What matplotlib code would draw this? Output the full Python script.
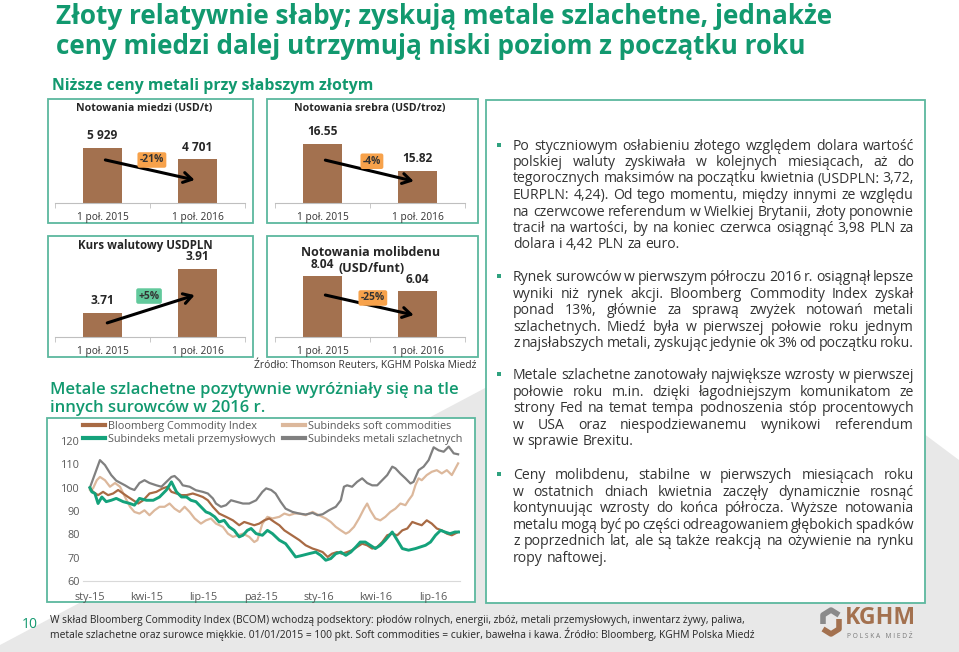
import matplotlib
matplotlib.use('Agg')
import matplotlib.pyplot as plt
from matplotlib import font_manager as fm
from matplotlib.patches import Rectangle, Polygon
from matplotlib.lines import Line2D
import pandas as pd

# ---------------- data ----------------
periods = ['1 poł. 2015', '1 poł. 2016']
copper = [5929, 4701]
silver = [16.55, 15.82]
usdpln = [3.71, 3.91]
molybdenum = [8.04, 6.04]
changes = ['-21%', '-4%', '+5%', '-25%']

start_date = '2015-01-01'
tick_dates = ['2015-01-01', '2015-04-01', '2015-07-01', '2015-10-01',
              '2016-01-01', '2016-04-01', '2016-07-01']
tick_labels = ['sty-15', 'kwi-15', 'lip-15', 'paź-15', 'sty-16', 'kwi-16', 'lip-16']
y_ticks = [60, 70, 80, 90, 100, 110, 120]

series_names = ['Bloomberg Commodity Index', 'Subindeks soft commodities',
                'Subindeks metali przemysłowych', 'Subindeks metali szlachetnych']

# days since 2015-01-01, index value (01/01/2015 = 100)
bcom_days = [0, 5, 13, 21, 29, 37, 45, 53, 61, 69, 77, 85, 95, 106, 116, 124, 130, 138, 146, 154,
             164, 172, 180, 188, 196, 206, 217, 228, 238, 246, 254, 262, 270, 278, 286, 294, 302, 310,
             318, 326, 334, 344, 355, 363, 371, 379, 386, 394, 402, 410, 418, 426, 434, 442, 450, 458,
             466, 474, 482, 490, 498, 506, 514, 521, 529, 537, 545, 553, 561, 569, 577, 587]
bcom_vals = [100, 98.2, 96.8, 98.2, 96.8, 97.5, 99, 97.5, 96, 94.6, 93.2, 94.6, 97.5, 98.2, 99.7, 100.4,
             98.2, 97.5, 96.8, 96.8, 97.5, 96.8, 96, 94.6, 91.8, 88.9, 87.5, 86, 83.9, 85.3, 84.6, 83.9,
             84.6, 86, 86.8, 85.3, 83.9, 81.7, 80.3, 78.9, 77.5, 75.3, 73.9, 73.2, 72.4, 70.3, 71.7, 72.4,
             71.7, 72.4, 73.2, 74.6, 76, 75.3, 73.9, 74.6, 76.7, 79.6, 80.3, 79.6, 81.7, 82.5, 85.3, 84.6,
             83.9, 86, 84.6, 82.5, 81.7, 80.3, 79.6, 81]

soft_days = [0, 5, 11, 16, 24, 32, 40, 48, 56, 64, 71, 79, 87, 95, 103, 111, 119, 127, 135, 143,
             151, 159, 167, 177, 185, 193, 201, 212, 220, 228, 236, 244, 254, 262, 267, 275, 283, 291,
             302, 310, 318, 326, 334, 344, 355, 365, 376, 384, 392, 400, 408, 413, 421, 429, 437, 442,
             447, 455, 463, 471, 479, 487, 495, 503, 508, 514, 519, 524, 529, 537, 545, 553, 561, 569,
             577, 587]
soft_vals = [99, 99.7, 103.2, 104.6, 103.2, 100.4, 102, 100.4, 96, 91.8, 89.6, 88.9, 90.3, 88.2, 90.3,
             91.8, 91.8, 93.2, 91, 89.6, 91.8, 89.6, 86.8, 84.6, 86, 86.8, 84.6, 83.2, 80.3, 78.9, 79.6,
             80.3, 78.9, 76.7, 77.5, 84.6, 87.5, 86.8, 87.5, 88.9, 88.2, 88.9, 88.9, 88.2, 89.6, 88.2,
             86.8, 85.3, 83.2, 81.7, 80.3, 81, 83.2, 86.8, 91, 93.2, 90.3, 86.8, 86, 87.5, 89.6, 91, 93.2,
             92.5, 94.6, 96.8, 101.1, 104, 103.2, 105.4, 106.8, 107.5, 106.1, 107.5, 105.4, 110.4]

ind_days = [0, 3, 8, 13, 19, 26, 34, 42, 53, 64, 71, 79, 90, 101, 111, 122, 130, 138, 146, 154,
            161, 169, 177, 185, 191, 199, 206, 214, 222, 230, 238, 244, 251, 257, 265, 275, 283, 291,
            302, 312, 320, 328, 339, 349, 360, 368, 376, 384, 392, 400, 408, 416, 424, 431, 439, 447,
            455, 463, 471, 482, 490, 498, 508, 519, 527, 535, 543, 551, 559, 566, 574, 582, 588]
ind_vals = [100, 98.2, 97.5, 93.2, 96, 94, 94.6, 95.4, 94, 93.2, 92.5, 95.4, 94.6, 94.6, 96, 99, 102.5,
            98.2, 96, 96, 94.6, 94, 91.8, 89.6, 89, 87.5, 85.3, 86, 83.2, 81.7, 78.9, 79.6, 81.7, 82.5,
            80.3, 79.6, 81.7, 80.3, 77.5, 76, 73.2, 70.3, 71, 71.7, 72.4, 71, 68.9, 69.6, 71.7, 72.4, 71,
            72.4, 74.6, 76.7, 76.7, 75.3, 73.9, 75.3, 77.5, 81, 77.5, 73.9, 73.2, 73.9, 74.6, 75.3, 76.7,
            79.6, 81.7, 81, 80.3, 81, 81]

prec_days = [0, 16, 24, 34, 42, 56, 64, 71, 79, 87, 95, 106, 114, 122, 130, 135, 143, 148, 159, 169,
             180, 188, 196, 201, 209, 217, 225, 233, 244, 254, 265, 275, 281, 289, 296, 304, 312, 323,
             334, 344, 355, 363, 371, 381, 392, 400, 405, 410, 418, 426, 434, 442, 450, 458, 466, 474,
             482, 487, 495, 503, 511, 516, 524, 532, 540, 548, 556, 564, 572, 580, 587]
prec_vals = [100, 111.8, 109.7, 105.4, 103, 101, 99.7, 99, 102, 103.2, 102, 101, 100.4, 102.5, 104.6,
             105, 103, 101, 100.4, 98.9, 98.2, 97.5, 95.4, 93.2, 91.8, 92.5, 94.6, 94, 93.2, 93.2, 94.6,
             98.2, 99.7, 99, 97.5, 94, 91, 89.6, 88.9, 88.5, 89.2, 88.2, 88.6, 90.3, 91.8, 94.6, 100.4,
             101, 100.4, 102.5, 104, 102, 101, 101, 103.2, 105.4, 109, 108.3, 106, 104, 101.8, 102.5,
             107.5, 109, 111.8, 117.3, 116, 115.4, 117.6, 114.7, 114.3]

paragraphs = [
    ["Po styczniowym osłabieniu złotego względem dolara wartość",
     "polskiej waluty zyskiwała w kolejnych miesiącach, aż do",
     "tegorocznych maksimów na początku kwietnia (USDPLN: 3,72,",
     "EURPLN: 4,24). Od tego momentu, między innymi ze względu",
     "na czerwcowe referendum w Wielkiej Brytanii, złoty ponownie",
     "tracił na wartości, by na koniec czerwca osiągnąć 3,98 PLN za",
     "dolara i 4,42 PLN za euro."],
    ["Rynek surowców w pierwszym półroczu 2016 r. osiągnął lepsze",
     "wyniki niż rynek akcji. Bloomberg Commodity Index zyskał",
     "ponad 13%, głównie za sprawą zwyżek notowań metali",
     "szlachetnych. Miedź była w pierwszej połowie roku jednym",
     "z najsłabszych metali, zyskując jedynie ok 3% od początku roku."],
    ["Metale szlachetne zanotowały największe wzrosty w pierwszej",
     "połowie roku m.in. dzięki łagodniejszym komunikatom ze",
     "strony Fed na temat tempa podnoszenia stóp procentowych",
     "w USA oraz niespodziewanemu wynikowi referendum",
     "w sprawie Brexitu."],
    ["Ceny molibdenu, stabilne w pierwszych miesiącach roku",
     "w ostatnich dniach kwietnia zaczęły dynamicznie rosnąć",
     "kontynuując wzrosty do końca półrocza. Wyższe notowania",
     "metalu mogą być po części odreagowaniem głębokich spadków",
     "z poprzednich lat, ale są także reakcją na ożywienie na rynku",
     "ropy naftowej."],
]

# ---------------- style ----------------
GREEN_T = '#12996f'
BORDER = '#5cb89e'
BAR = '#a3714f'
ORANGE = '#f7a24b'
LGREEN = '#62c99c'
TXT = '#333333'
C_BCOM, C_SOFT, C_IND, C_PREC = '#a86a44', '#dcb89c', '#14a27b', '#808080'

names = {f.name for f in fm.fontManager.ttflist}
BODY = 'Open Sans'
NARROW = 'Liberation Sans Narrow' if 'Liberation Sans Narrow' in names else 'Open Sans'
plt.rcParams['font.family'] = [BODY, 'DejaVu Sans']

W, H = 959, 652
fig = plt.figure(figsize=(W / 100, H / 100), dpi=100)
fig.patch.set_facecolor('white')
bg = fig.add_axes([0, 0, 1, 1])
bg.set_xlim(0, W)
bg.set_ylim(H, 0)
bg.axis('off')
R = fig.canvas.get_renderer()


def px_axes(x0, y0, x1, y1):
    a = fig.add_axes([x0 / W, 1 - y1 / H, (x1 - x0) / W, (y1 - y0) / H])
    a.patch.set_alpha(0)
    return a


def tw(t):
    return t.get_window_extent(renderer=R).width


def fit(x, y, s, width, **kw):
    t = bg.text(x, y, s, fontsize=10, **kw)
    t.set_fontsize(10 * width / tw(t))
    return t


def box(x0, y0, x1, y1):
    bg.add_patch(Rectangle((x0, y0), x1 - x0, y1 - y0, fc='white', ec=BORDER, lw=1.3, zorder=1))


# background decoration
bg.add_patch(Polygon([(0, 645), (706, 271), (959, 460), (959, 652), (0, 652)],
                     closed=True, fc='#e8e8e8', ec='none', zorder=0))

# titles
t1 = fit(56, 17, "Złoty relatywnie słaby; zyskują metale szlachetne, jednakże", 780,
         family=NARROW, fontweight='bold', color=GREEN_T, va='center')
bg.text(56, 46, "ceny miedzi dalej utrzymują niski poziom z początku roku",
        fontsize=t1.get_fontsize(), family=NARROW, fontweight='bold', color=GREEN_T, va='center')
fit(52, 86, "Niższe ceny metali przy słabszym złotym", 320,
    family=NARROW, fontweight='bold', color=GREEN_T, va='center')

# panel boxes
box(48, 99, 253, 223)
box(267, 99, 478, 223)
box(48, 236, 253, 357)
box(267, 236, 478, 357)
box(47, 418, 475, 602)
box(486, 100, 925, 603)


def bar_panel(rect, vals, ylim, fmt, arrow, badge, badge_txt, badge_col):
    ax = px_axes(*rect)
    ax.set_xlim(-0.5, 1.5)
    ax.set_ylim(*ylim)
    ax.bar([0, 1], vals, width=0.41, color=BAR, zorder=2)
    for s in ['left', 'top', 'right']:
        ax.spines[s].set_visible(False)
    ax.spines['bottom'].set_color('#bfbfbf')
    ax.set_yticks([])
    ax.set_xticks([0, 1])
    ax.set_xticklabels(periods, fontsize=7.3, color=TXT)
    ax.tick_params(axis='x', which='major', length=0, pad=6.5)
    ax.set_xticks([-0.5, 0.5, 1.5], minor=True)
    ax.tick_params(axis='x', which='minor', length=3.5, color='#bfbfbf', direction='out')
    for i, v in enumerate(vals):
        ax.annotate(fmt(v), (i, v), xytext=(0, 8.8), textcoords='offset points',
                    ha='center', va='center', fontsize=8.6, fontweight='bold', color='#262626')
    (xa, ya), (xb, yb) = arrow
    ax.annotate('', xy=(xb, yb), xytext=(xa, ya),
                arrowprops=dict(arrowstyle='->,head_length=0.6,head_width=0.36', lw=2.2,
                                color='black', shrinkA=0, shrinkB=0), zorder=4)
    ax.text(badge[0], badge[1], badge_txt, ha='center', va='center', fontsize=7.4,
            fontweight='bold', color='#333333', zorder=5,
            bbox=dict(boxstyle='round,pad=0.22,rounding_size=0.2', fc=badge_col, ec='none'))
    return ax


thousands = lambda v: f"{v:,.0f}".replace(',', ' ')
two = lambda v: f"{v:.2f}"

bar_panel((55, 118, 245, 203), copper, (0, 9160), thousands,
          ((0.03, 4640), (0.97, 2480)), (0.52, 4635), changes[0], ORANGE)
bar_panel((275, 118, 465, 203), silver, (14.95, 17.25), two,
          ((0.03, 16.11), (0.96, 15.54)), (0.52, 16.08), changes[1], ORANGE)
bar_panel((55, 252, 245, 337), usdpln, (3.60, 3.986), two,
          ((0.05, 3.664), (0.97, 3.79)), (0.49, 3.786), changes[2], LGREEN)
bar_panel((275, 252, 465, 337), molybdenum, (0, 11.26), two,
          ((0.03, 5.56), (0.96, 2.91)), (0.53, 5.17), changes[3], ORANGE)

bg.text(144, 108, "Notowania miedzi (USD/t)", fontsize=7.6, fontweight='bold', color='#262626',
        ha='center', va='center', zorder=3)
bg.text(370, 108, "Notowania srebra (USD/troz)", fontsize=7.6, fontweight='bold', color='#262626',
        ha='center', va='center', zorder=3)
bg.text(145, 245, "Kurs walutowy USDPLN", fontsize=8.3, fontweight='bold', color='#262626',
        ha='center', va='center', zorder=3)
bg.text(371, 253, "Notowania molibdenu", fontsize=9, fontweight='bold', color='#262626',
        ha='center', va='center', zorder=3)
bg.text(372, 268, "(USD/funt)", fontsize=9, fontweight='bold', color='#262626',
        ha='center', va='center', zorder=3)
src = fit(476, 365, "Źródło: Thomson Reuters, KGHM Polska Miedź", 223, color=TXT, va='center', ha='right')

# line chart title
lt = fit(50, 390, "Metale szlachetne pozytywnie wyróżniały się na tle", 408,
         fontweight='semibold', color=GREEN_T, va='center')
bg.text(50, 408, "innych surowców w 2016 r.", fontsize=lt.get_fontsize(),
        fontweight='semibold', color=GREEN_T, va='center')

# line chart
start = pd.Timestamp(start_date)
tick_days = [(pd.Timestamp(d) - start).days for d in tick_dates]
lc = px_axes(83, 441, 460, 581)
lc.set_xlim(-11, 590)
lc.set_ylim(60, 120)
h_soft, = lc.plot(soft_days, soft_vals, color=C_SOFT, lw=1.6)
h_bcom, = lc.plot(bcom_days, bcom_vals, color=C_BCOM, lw=1.6)
h_prec, = lc.plot(prec_days, prec_vals, color=C_PREC, lw=1.6)
h_ind, = lc.plot(ind_days, ind_vals, color=C_IND, lw=2.1)
for s in ['left', 'top', 'right']:
    lc.spines[s].set_visible(False)
lc.spines['bottom'].set_color('#d9d9d9')
lc.set_yticks(y_ticks)
lc.set_xticks(tick_days)
lc.set_xticklabels(tick_labels)
lc.tick_params(axis='both', length=0, labelsize=7.8, labelcolor='#595959')
lc.tick_params(axis='y', pad=2.5)
lc.tick_params(axis='x', pad=8)

lh = lambda c: Line2D([], [], color=c, lw=3)
common = dict(frameon=False, fontsize=7.8, handlelength=2.0, handletextpad=0.3,
              labelspacing=0.2, borderpad=0, borderaxespad=0, labelcolor='#595959',
              loc='upper left', bbox_transform=fig.transFigure)
leg1 = lc.legend([lh(C_BCOM), lh(C_IND)], [series_names[0], series_names[2]],
                 bbox_to_anchor=(83 / W, 1 - 421 / H), **common)
lc.add_artist(leg1)
lc.legend([lh(C_SOFT), lh(C_PREC)], [series_names[1], series_names[3]],
          bbox_to_anchor=(283 / W, 1 - 421 / H), **common)

# right text box (justified)
sizes = []
for s, w in [("dolara i 4,42 PLN za euro.", 160), ("w sprawie Brexitu.", 124), ("ropy naftowej.", 95)]:
    tt = bg.text(0, 0, s, fontsize=10, family=BODY)
    sizes.append(10 * w / tw(tt))
    tt.remove()
BS = sum(sizes) / len(sizes)
sp = bg.text(0, 0, "a a", fontsize=BS)
sp2 = bg.text(0, 0, "aa", fontsize=BS)
SPACE = tw(sp) - tw(sp2)
sp.remove(); sp2.remove()

X0, X1 = 513, 914
para_y = [146, 277.7, 375.7, 475.7]
LS = 16.5
for p, y0 in zip(paragraphs, para_y):
    bg.add_patch(Rectangle((497, y0 - 3.3), 4, 4, fc='#2fa27f', ec='none', zorder=3))
    for k, line in enumerate(p):
        y = y0 + k * LS
        words = line.split(' ')
        ts = [bg.text(0, y, wd, fontsize=BS, color=TXT, va='center', ha='left', zorder=3) for wd in words]
        ws = [tw(t) for t in ts]
        last = (k == len(p) - 1) and (sum(ws) + SPACE * (len(ws) - 1) < 0.93 * (X1 - X0))
        gap = SPACE if (last or len(ws) == 1) else (X1 - X0 - sum(ws)) / (len(ws) - 1)
        x = X0
        for t, w in zip(ts, ws):
            t.set_x(x)
            x += w + gap

# footer
bg.text(30, 624, "10", fontsize=10, color=GREEN_T, ha='center', va='center')
f1 = fit(50, 620, "W skład Bloomberg Commodity Index (BCOM) wchodzą podsektory: płodów rolnych, energii, "
         "zbóż, metali przemysłowych, inwentarz żywy, paliwa,", 691, family=NARROW, color='#262626', va='center')
bg.text(50, 634, "metale szlachetne oraz surowce miękkie. 01/01/2015 = 100 pkt. Soft commodities = cukier, "
        "bawełna i kawa. Źródło: Bloomberg, KGHM Polska Miedź", fontsize=f1.get_fontsize(),
        family=NARROW, color='#262626', va='center')

# KGHM logo
bg.plot([823, 823, 831, 839], [624, 615, 610, 615], color='#8a8a8a', lw=4, solid_capstyle='butt')
bg.plot([839, 839, 831, 823], [619, 629, 634, 629], color=BAR, lw=4, solid_capstyle='butt')
fit(845, 618, "KGHM", 71, fontweight='bold', color=BAR, va='center')
fit(847, 637, "P O L S K A   M I E D Ź", 66, color='#7a7a7a', va='center')

fig.savefig('out.png', dpi=100, facecolor='white')
